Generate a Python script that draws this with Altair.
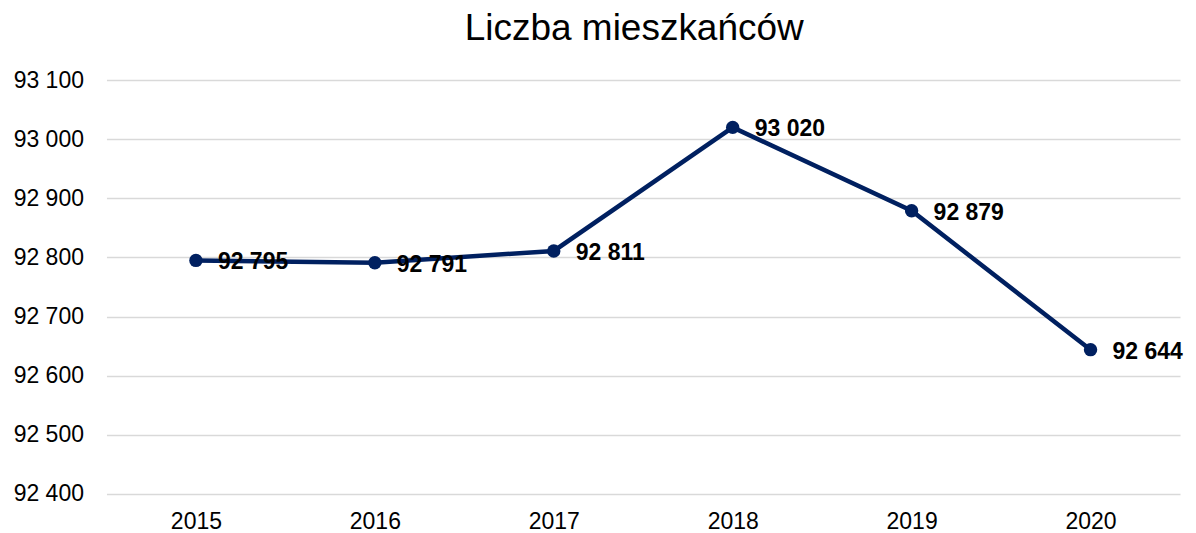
import altair as alt
import pandas as pd

years = ["2015", "2016", "2017", "2018", "2019", "2020"]
values = [92795, 92791, 92811, 93020, 92879, 92644]
y_ticks = [92400, 92500, 92600, 92700, 92800, 92900, 93000, 93100]

df = pd.DataFrame({"rok": years, "liczba": values})
df["etykieta"] = [f"{v:,}".replace(",", " ") for v in values]

FONT = "Liberation Sans"
NAVY = "#002060"

x = alt.X("rok:O", title=None,
          scale=alt.Scale(type="point", padding=0.5),
          axis=alt.Axis(labelAngle=0, ticks=False, domain=False,
                        labelFontSize=23, labelFont=FONT, labelColor="#000000",
                        labelPadding=17, grid=False))
y = alt.Y("liczba:Q", title=None,
          scale=alt.Scale(domain=[92400, 93100], nice=False, zero=False),
          axis=alt.Axis(values=y_ticks, ticks=False, domain=False,
                        labelFontSize=23, labelFont=FONT, labelColor="#000000",
                        labelPadding=23, gridColor="#d9d9d9", gridWidth=1.5,
                        labelExpr="replace(format(datum.value, ','), ',', ' ')"))

base = alt.Chart(df).encode(x=x, y=y)

line = base.mark_line(color=NAVY, strokeWidth=4.5)
pts = base.mark_circle(color=NAVY, size=180, opacity=1)
txt = base.mark_text(align="left", baseline="middle", dx=22, dy=2,
                     fontSize=23, fontWeight="bold", font=FONT,
                     color="#000000").encode(text="etykieta:N")

chart = (line + pts + txt).properties(
    width=1074, height=414,
    autosize=alt.AutoSizeParams(type="none"),
    padding={"left": 98.5, "top": 72, "right": 8, "bottom": 40},
    title=alt.TitleParams("Liczba mieszkańców", fontSize=37, font=FONT,
                          fontWeight="normal", color="#000000",
                          anchor="middle", offset=21, dx=-9),
).configure_view(stroke=None)

chart.save("out.html", embed_options={"renderer": "svg", "actions": False})
